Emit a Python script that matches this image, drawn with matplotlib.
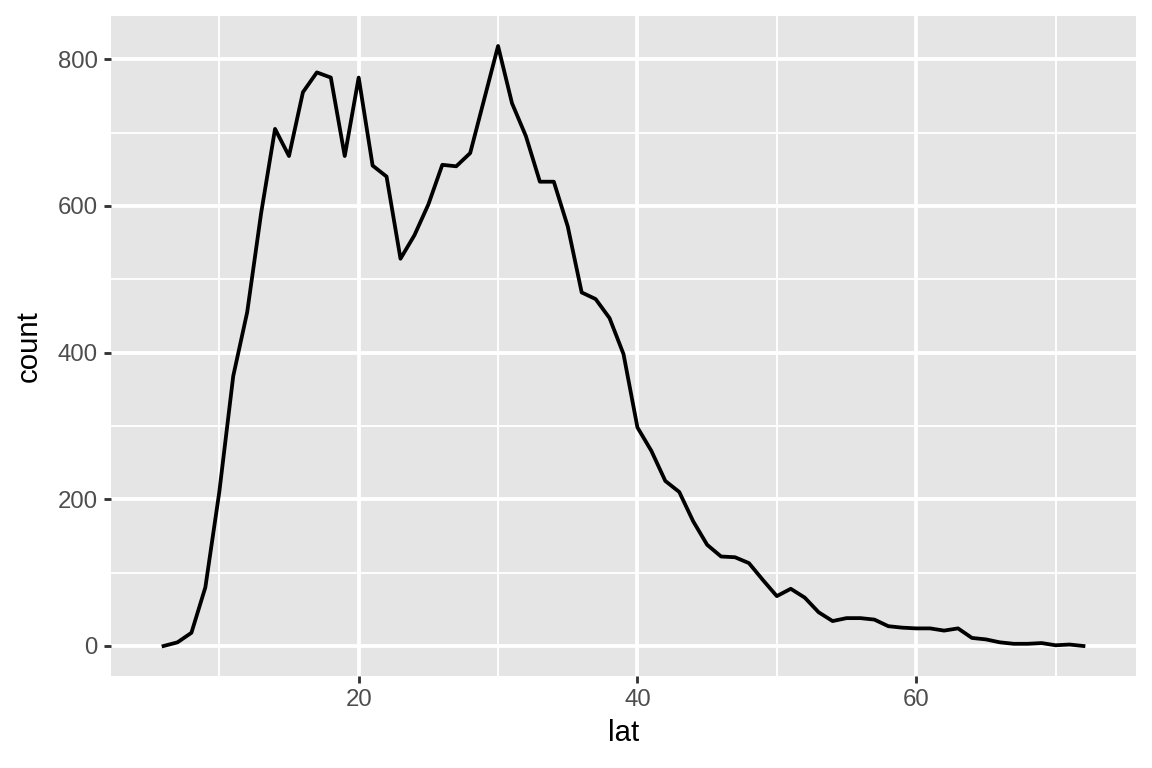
import matplotlib
matplotlib.use("Agg")
import matplotlib.pyplot as plt

plt.rcParams['font.family'] = ['Liberation Sans', 'DejaVu Sans']

# frequency polygon of storm latitudes (binwidth 1)
lat = list(range(6, 73))
count = [0, 5, 18, 80, 210, 368, 455, 590, 705, 668,
         755, 782, 775, 668, 775, 655, 640, 528, 560, 602,
         656, 654, 672, 745, 818, 740, 695, 633, 633, 572,
         482, 473, 447, 398, 298, 266, 225, 210, 170, 138,
         122, 121, 113, 90, 68, 78, 66, 46, 34, 38,
         38, 36, 27, 25, 24, 24, 21, 24, 11, 9,
         5, 3, 3, 4, 1, 2, 0]

x_ticks = [20, 40, 60]
x_minor = [10, 30, 50, 70]
y_ticks = [0, 200, 400, 600, 800]
y_minor = [100, 300, 500, 700]

W, H = 1152, 768
fig = plt.figure(figsize=(6, 4), dpi=192)
ax = fig.add_axes([111 / W, (H - 676) / H, (1136 - 111) / W, (676 - 16) / H])

ax.set_facecolor("#E5E5E5")
for s in ax.spines.values():
    s.set_visible(False)

for v in x_minor:
    ax.axvline(v, color="white", lw=0.71, zorder=0)
for v in y_minor:
    ax.axhline(v, color="white", lw=0.71, zorder=0)
for v in x_ticks:
    ax.axvline(v, color="white", lw=1.42, zorder=0)
for v in y_ticks:
    ax.axhline(v, color="white", lw=1.42, zorder=0)

ax.plot(lat, count, color="black", lw=1.42, zorder=3)

ymax = max(count)
ax.set_xlim(2.23, 75.77)
ax.set_ylim(-0.05 * ymax, 1.05 * ymax)

ax.set_xticks(x_ticks)
ax.set_yticks(y_ticks)
ax.tick_params(axis="both", length=2.75, width=1.07, color="#333333",
               labelsize=9, labelcolor="#4D4D4D", pad=2.2)

ax.set_xlabel("lat", fontsize=11, color="black", labelpad=2.75)
ax.set_ylabel("count", fontsize=11, color="black", labelpad=5.5)

fig.savefig("out.png", dpi=192)
